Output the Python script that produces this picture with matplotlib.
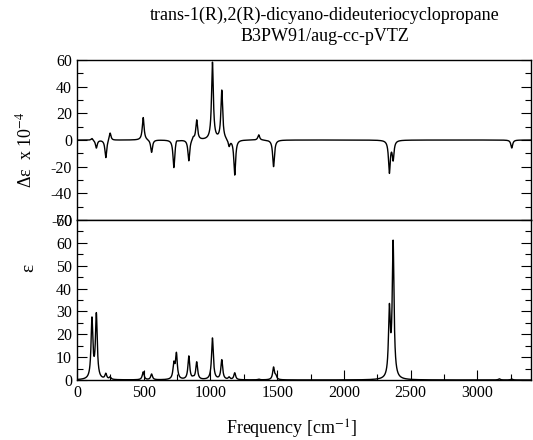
import matplotlib.pyplot as plt
import numpy as np
from matplotlib.ticker import MultipleLocator

plt.rcParams['font.family'] = ['Liberation Serif', 'DejaVu Serif']
plt.rcParams['mathtext.fontset'] = 'stix'
plt.rcParams['axes.unicode_minus'] = False

# band positions (cm^-1)
freqs = [112, 145, 216, 248, 496, 559, 726, 745, 838, 871, 897, 1015, 1085,
         1140, 1182, 1362, 1473, 1490, 2341, 2369, 3165, 3258]
# absorption intensities (epsilon) at each band
eps = [26.0, 28.0, 2.4, 1.0, 3.5, 2.5, 6.5, 11.0, 10.2, 0.5, 7.6, 18.2, 8.6,
       1.0, 3.0, 0.3, 5.4, 1.5, 29.0, 59.0, 0.5, 0.4]
# VCD intensities (delta epsilon x 1e-4) at each band
deps = [1.5, -6.0, -13.5, 6.0, 17.0, -9.5, -21.0, 2.0, -16.0, 2.0, 15.0, 58.0,
        37.0, -5.0, -26.5, 4.0, -20.0, 0.0, -24.0, -14.0, 0.0, -6.0]

HWHM = 8.0


def broaden(x: np.ndarray, centers, heights, hwhm: float) -> np.ndarray:
    y = np.zeros_like(x)
    for c, h in zip(centers, heights):
        y += h * hwhm ** 2 / ((x - c) ** 2 + hwhm ** 2)
    return y


def set_ticks(ax, major, minor):
    ax.yaxis.set_major_locator(MultipleLocator(major))
    ax.yaxis.set_minor_locator(MultipleLocator(minor))
    ax.tick_params(axis='both', which='major', direction='in', length=7,
                   width=0.8, labelsize=11.5, right=True, top=False)
    ax.tick_params(axis='both', which='minor', direction='in', length=4,
                   width=0.8, right=True, top=False)


x = np.linspace(0, 3400, 13601)
cd = broaden(x, freqs, deps, HWHM)
ir = broaden(x, freqs, eps, HWHM)

fig = plt.figure(figsize=(5.33, 4.4), dpi=100)
left, right = 77 / 533, 530.7 / 533
ax1 = fig.add_axes([left, 0.5, right - left, 0.3636])
ax2 = fig.add_axes([left, 0.1364, right - left, 0.3636], sharex=ax1)

ax1.plot(x, cd, color='black', linewidth=1.0)
ax1.set_ylim(-60, 60)
set_ticks(ax1, 20, 10)
ax1.tick_params(axis='x', which='both', bottom=False, labelbottom=False)
ax1.set_ylabel('Δε  x 10$^{-4}$', fontsize=13)
ax1.yaxis.set_label_coords(-0.091, 0.44)

ax2.plot(x, ir, color='black', linewidth=1.0)
ax2.set_ylim(0, 70)
ax2.set_xlim(0, 3400)
set_ticks(ax2, 10, 5)
ax2.xaxis.set_major_locator(MultipleLocator(500))
ax2.xaxis.set_minor_locator(MultipleLocator(250))
ax2.set_ylabel('ε', fontsize=14)
ax2.yaxis.set_label_coords(-0.088, 0.7)
ax2.set_xlabel('Frequency [cm$^{-1}$]', fontsize=13)
ax2.xaxis.set_label_coords(0.472, -0.235)
ax2.set_xticks([0, 500, 1000, 1500, 2000, 2500, 3000])

for ax in (ax1, ax2):
    for s in ax.spines.values():
        s.set_linewidth(1.0)

fig.text(0.61, 0.966, 'trans-1(R),2(R)-dicyano-dideuteriocyclopropane',
         ha='center', va='center', fontsize=13)
fig.text(0.61, 0.918, 'B3PW91/aug-cc-pVTZ', ha='center', va='center',
         fontsize=13)

fig.savefig('out.png', dpi=100)
